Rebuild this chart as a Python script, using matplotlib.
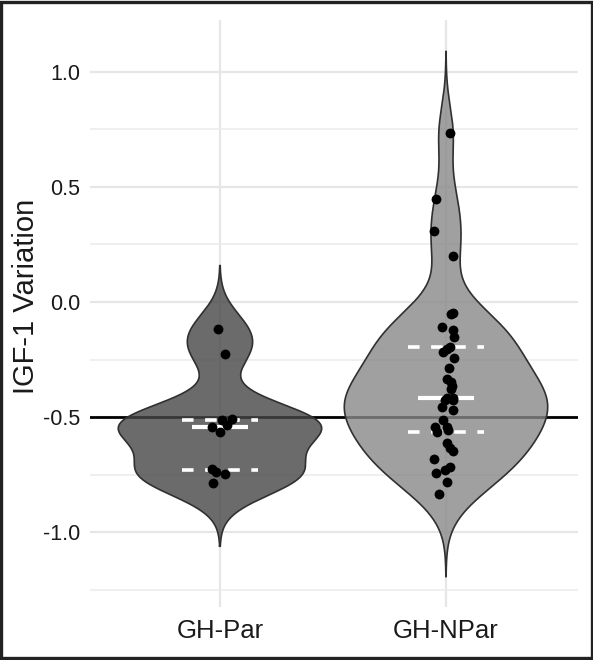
import numpy as np
import matplotlib
matplotlib.use("Agg")
import matplotlib.pyplot as plt
from matplotlib.patches import Rectangle

plt.rcParams['font.family'] = ['Liberation Sans', 'DejaVu Sans']
plt.rcParams['axes.unicode_minus'] = False

groups = ["GH-Par", "GH-NPar"]

# values
par_vals = [-0.117, -0.227, -0.51, -0.513, -0.542, -0.535, -0.564,
            -0.727, -0.738, -0.749, -0.786]
par_jitter = [-0.008, 0.022, 0.052, 0.008, -0.037, 0.030, 0.0,
              -0.034, -0.018, 0.022, -0.029]

npar_vals = [0.733, 0.448, 0.309, 0.2,
             -0.046, -0.052, -0.11, -0.122, -0.154, -0.194, -0.206, -0.219,
             -0.245, -0.289, -0.336, -0.346, -0.365, -0.38, -0.419, -0.419,
             -0.426, -0.426, -0.455, -0.47, -0.513, -0.542, -0.542, -0.566,
             -0.557, -0.614, -0.633, -0.648, -0.683, -0.716, -0.73, -0.745,
             -0.784, -0.836]
npar_jitter = [0.018, -0.044, -0.052, 0.030,
               0.032, 0.021, -0.016, 0.032, 0.037, 0.018, 0.003, -0.015,
               0.037, 0.013, 0.006, 0.021, 0.025, 0.021, 0.003, 0.032,
               -0.004, 0.032, -0.019, 0.032, -0.012, -0.049, 0.003, -0.042,
               0.010, 0.003, 0.018, 0.032, -0.053, 0.018, -0.004, -0.044,
               0.003, -0.029]

fills = ["#464646", "#888888"]
hline_y = -0.5


def nrd0(x):
    x = np.asarray(x)
    iqr = np.subtract(*np.percentile(x, [75, 25]))
    lo = min(np.std(x, ddof=1), iqr / 1.34)
    return 0.9 * lo * len(x) ** -0.2


def kde(x, bw, grid):
    x = np.asarray(x)
    d = np.exp(-0.5 * ((grid[:, None] - x[None, :]) / bw) ** 2).sum(axis=1)
    return d / (len(x) * bw * np.sqrt(2 * np.pi))


fig = plt.figure(figsize=(5.93, 6.6), dpi=100)
ax = fig.add_axes([90 / 593, 53 / 660, 488 / 593, 587 / 660])
ax.set_facecolor("white")

ax.set_xlim(0.425, 2.584)
ax.set_ylim(-1.326, 1.226)
ax.set_yticks([-1.0, -0.5, 0.0, 0.5, 1.0])
ax.set_yticks([-1.25, -0.75, -0.25, 0.25, 0.75], minor=True)
ax.set_xticks([1, 2])
ax.set_xticklabels(groups)
ax.grid(True, which="major", color="#e6e6e6", lw=1.6, zorder=0)
ax.grid(True, which="minor", axis="y", color="#ececec", lw=1.2, zorder=0)
ax.set_axisbelow(True)
for s in ax.spines.values():
    s.set_visible(False)
ax.tick_params(axis="both", which="both", length=0)
ax.tick_params(axis="y", labelsize=15.5, pad=7, labelcolor="#1a1a1a")
ax.tick_params(axis="x", labelsize=18.5, pad=9, labelcolor="#1a1a1a")

ax.axhline(hline_y, color="black", lw=2.0, zorder=1)

for i, (vals, jit) in enumerate([(par_vals, par_jitter), (npar_vals, npar_jitter)]):
    pos = i + 1
    bw = nrd0(vals)
    grid = np.linspace(min(vals) - 3 * bw, max(vals) + 3 * bw, 400)
    dens = kde(vals, bw, grid)
    half = dens / dens.max() * 0.45
    ax.fill_betweenx(grid, pos - half, pos + half, facecolor=fills[i], alpha=0.8,
                     edgecolor="none", zorder=2)
    ax.plot(np.r_[pos - half, (pos + half)[::-1], pos - half[0]],
            np.r_[grid, grid[::-1], grid[0]], color="#303030", lw=1.2, zorder=3)

    q1, med, q3 = np.percentile(vals, [25, 50, 75])
    for q in (q1, q3):
        ax.plot([pos - 0.168, pos + 0.168], [q, q], color="white", lw=2.6,
                linestyle=(0, (3.2, 3.2)), solid_capstyle="butt", zorder=4)
    ax.plot([pos - 0.125, pos + 0.125], [med, med], color="white", lw=3.0,
            solid_capstyle="butt", zorder=4)

    ax.scatter(pos + np.asarray(jit), vals, s=50, color="black", zorder=5,
               linewidths=0)

ax.set_ylabel("IGF-1 Variation", fontsize=21, color="#1a1a1a")
ax.yaxis.set_label_coords(-0.102, 0.53)

fig.add_artist(Rectangle((0.0025, 0.0025), 0.995, 0.995, transform=fig.transFigure,
                         fill=False, lw=2.4, edgecolor="#222222"))

fig.savefig("out.png", dpi=100)
